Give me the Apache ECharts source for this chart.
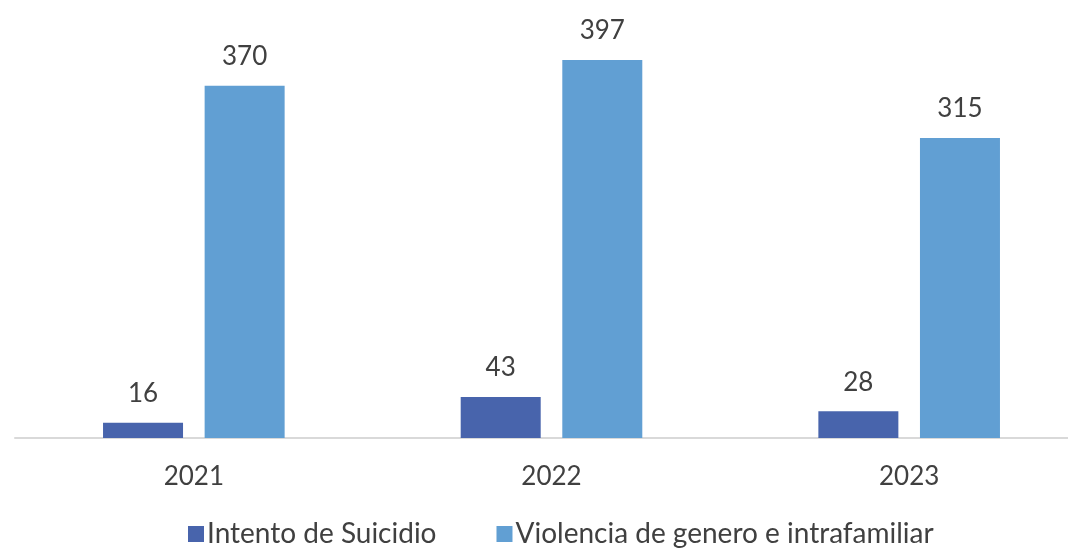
<!doctype html>
<html>
<head>
<meta charset="utf-8">
<title>Intento de Suicidio / Violencia</title>
<style type="text/css">
html,body{margin:0;padding:0;background:#fff;}
#chart{width:1068px;height:553px;}
</style>
<script type="text/javascript" src="https://cdn.jsdelivr.net/npm/echarts@6/dist/echarts.min.js"></script>
</head>
<body>
<div id="chart"></div>
<script type="text/javascript">
var years = ['2021', '2022', '2023'];
var suicidio = [16, 43, 28];
var violencia = [370, 397, 315];

var myChart = echarts.init(document.getElementById('chart'));
var labelStyle = {
    show: true,
    position: 'top',
    distance: 16,
    color: '#404040',
    fontSize: 26,
    fontFamily: 'Lato'
};
var option = {
    backgroundColor: '#fff',
    animation: false,
    grid: { left: 15, width: 1073, top: 0, bottom: 115, outerBoundsMode: 'none', containLabel: false },
    legend: {
        bottom: 0,
        left: 183,
        itemWidth: 16,
        itemHeight: 16,
        itemGap: 60,
        icon: 'rect',
        textStyle: { color: '#404040', fontSize: 28, fontFamily: 'Lato', padding: [0, 0, 0, -2] },
        data: ['Intento de Suicidio', 'Violencia de genero e intrafamiliar']
    },
    xAxis: {
        type: 'category',
        data: years,
        axisLine: { lineStyle: { color: '#d9d9d9', width: 2 } },
        axisTick: { show: false },
        axisLabel: { color: '#404040', fontSize: 26, fontFamily: 'Lato', margin: 26 }
    },
    yAxis: {
        type: 'value',
        min: 0,
        max: 460,
        show: false,
        splitLine: { show: false }
    },
    series: [
        {
            name: 'Intento de Suicidio',
            type: 'bar',
            data: suicidio,
            barWidth: 80,
            barGap: '27%',
            itemStyle: { color: '#4864ac' },
            label: labelStyle
        },
        {
            name: 'Violencia de genero e intrafamiliar',
            type: 'bar',
            data: violencia,
            barWidth: 80,
            itemStyle: { color: '#619fd3' },
            label: labelStyle
        }
    ]
};
myChart.setOption(option);
</script>
</body>
</html>
